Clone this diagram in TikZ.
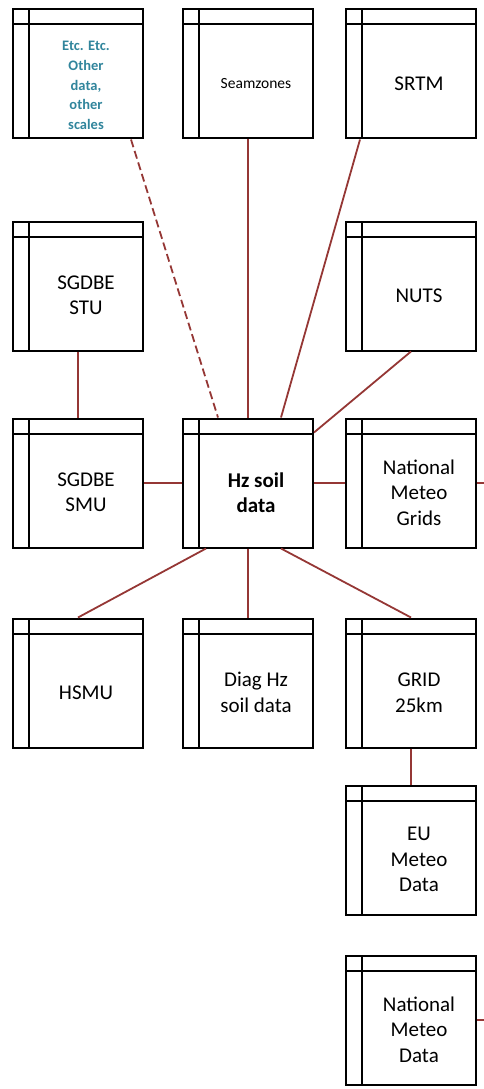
\documentclass[tikz,border=0pt]{standalone}
\usepackage{fontspec}
\setmainfont{Carlito}
\usetikzlibrary{positioning, calc}

\definecolor{linkred}{HTML}{953735}
\definecolor{tealtext}{HTML}{31859C}

\begin{document}
\begin{tikzpicture}[x=1pt, y=-1pt]
          \tikzset{
            tbl/.style={rectangle, draw=black, line width=2pt, inner sep=0pt,
              minimum width=130pt, minimum height=129pt,
              path picture={
                \draw[line width=2pt] ([yshift=-15pt]path picture bounding box.north west)
                  -- ([yshift=-15pt]path picture bounding box.north east);
                \draw[line width=2pt] ([xshift=16pt]path picture bounding box.north west)
                  -- ([xshift=16pt]path picture bounding box.south west);
              }},
            txt/.style={align=center, xshift=8pt, yshift=-9.5pt,
              font=\fontsize{21}{25.5}\selectfont},
            link/.style={draw=linkred, line width=1.8pt}
          }

          \useasboundingbox (0,0) rectangle (484,1089);

          % top row
          \node[tbl, label={[txt, name=etc-t, text=tealtext, yshift=-2pt,
              font=\fontsize{14.5}{19.6}\selectfont\bfseries]center:Etc. Etc.\\Other\\data,\\other\\scales}]
              (etc) at (78,74) {};
          \node[tbl, label={[txt, name=sea-t, font=\fontsize{15.5}{19}\selectfont]center:Seamzones}]
              (sea) at (248,74) {};
          \node[tbl, label={[txt, name=srtm-t]center:SRTM}] (srtm) at (411,74) {};

          % second row
          \node[tbl, label={[txt, name=stu-t]center:SGDBE\\STU}] (stu) at (78,286) {};
          \node[tbl, label={[txt, name=nuts-t]center:NUTS}] (nuts) at (411,286) {};

          % middle row
          \node[tbl, label={[txt, name=smu-t]center:SGDBE\\SMU}] (smu) at (78,483) {};
          \node[tbl, label={[txt, name=hz-t, font=\fontsize{21}{25.5}\selectfont\bfseries]center:Hz soil\\data}]
              (hz) at (248,483) {};
          \node[tbl, label={[txt, name=grids-t]center:National\\Meteo\\Grids}] (grids) at (411,483) {};

          % lower rows
          \node[tbl, label={[txt, name=hsmu-t]center:HSMU}] (hsmu) at (78,683) {};
          \node[tbl, label={[txt, name=diag-t]center:Diag Hz\\soil data}] (diag) at (248,683) {};
          \node[tbl, label={[txt, name=grid-t]center:GRID\\25km}] (grid) at (411,683) {};
          \node[tbl, label={[txt, name=eu-t]center:EU\\Meteo\\Data}] (eu) at (411,850) {};
          \node[tbl, label={[txt, name=natdata-t]center:National\\Meteo\\Data}] (natdata) at (411,1020) {};

          \coordinate (stub1) at (484,483);
          \coordinate (stub2) at (484,1020);

          \draw[link, dash pattern=on 8pt off 4pt] ([xshift=-13pt]etc.south east) -- ([xshift=36pt]hz.north west);
          \draw[link] (sea) -- (hz);
          \draw[link] ([xshift=15pt]srtm.south west) -- ([xshift=-33pt]hz.north east);
          \draw[link] (nuts.south) -- ([yshift=-15pt]hz.north east);
          \draw[link] (stu) -- (smu);
          \draw[link] (smu) -- (hz);
          \draw[link] (hz) -- (grids);
          \draw[link] (grids.east) -- (stub1);
          \draw[link] ([xshift=24pt]hz.south west) -- (hsmu.north);
          \draw[link] (hz) -- (diag);
          \draw[link] ([xshift=-33pt]hz.south east) -- (grid.north);
          \draw[link] (grid) -- (eu);
          \draw[link] (natdata.east) -- (stub2);

        \end{tikzpicture}
\end{document}
